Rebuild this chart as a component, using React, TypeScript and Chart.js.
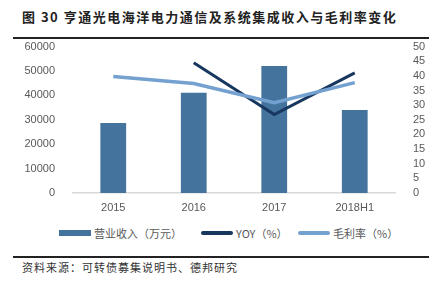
import React, { useEffect, useRef } from "react";
import { Chart, registerables } from "chart.js";

Chart.register(...registerables);

const categories = ["2015", "2016", "2017", "2018H1"];
const revenue = [28700, 41100, 52000, 34000];
const yoy: (number | null)[] = [null, 44.5, 26.8, 41.0];
const grossMargin = [39.8, 37.4, 30.8, 37.7];
const leftTicks = [0, 10000, 20000, 30000, 40000, 50000, 60000];
const rightTicks = [0, 5, 10, 15, 20, 25, 30, 35, 40, 45, 50];

const BAR = "#44739D";
const YOY_C = "#17375E";
const GM_C = "#74A1D0";
const CJK = '"Noto Sans CJK SC", "Liberation Sans", sans-serif';

export default function App() {
  const ref = useRef<HTMLCanvasElement | null>(null);
  useEffect(() => {
    document.body.style.margin = "0";
    const ctx = ref.current!;
    const tickFont = { family: "Liberation Sans", size: 11 };
    const chart = new Chart(ctx, {
      type: "bar",
      data: {
        labels: categories,
        datasets: [
          {
            type: "bar",
            label: "营业收入（万元）",
            data: revenue,
            backgroundColor: BAR,
            yAxisID: "y",
            categoryPercentage: 1,
            barPercentage: 0.32,
            order: 3,
          },
          {
            type: "line",
            label: "YOY（%）",
            data: yoy,
            borderColor: YOY_C,
            backgroundColor: YOY_C,
            borderWidth: 3,
            pointRadius: 0,
            yAxisID: "y1",
            order: 2,
          },
          {
            type: "line",
            label: "毛利率（%）",
            data: grossMargin,
            borderColor: GM_C,
            backgroundColor: GM_C,
            borderWidth: 3.5,
            pointRadius: 0,
            yAxisID: "y1",
            order: 1,
          },
        ] as any,
      },
      options: {
        animation: false,
        responsive: false,
        maintainAspectRatio: false,
        layout: { padding: { top: 0, left: 0, right: 0, bottom: 0 } },
        plugins: { legend: { display: false }, tooltip: { enabled: false } },
        scales: {
          x: {
            grid: { display: false },
            border: { color: "#d9d9d9", width: 1.5 },
            ticks: {
              color: "#595959",
              font: tickFont,
              padding: 0,
            },
            afterFit: (s: any) => {
              s.height = 27;
            },
          },
          y: {
            position: "left",
            min: 0,
            max: 60000,
            grid: { display: false },
            border: { display: false },
            afterBuildTicks: (s: any) => {
              s.ticks = leftTicks.map((v) => ({ value: v }));
            },
            ticks: {
              color: "#595959",
              font: tickFont,
              padding: 10,
              autoSkip: false,
              callback: (v: any) => String(v),
            },
            afterFit: (s: any) => {
              s.width = 73;
            },
          },
          y1: {
            position: "right",
            min: 0,
            max: 50,
            grid: { display: false },
            border: { display: false },
            afterBuildTicks: (s: any) => {
              s.ticks = rightTicks.map((v) => ({ value: v }));
            },
            ticks: {
              color: "#595959",
              font: tickFont,
              padding: 10,
              autoSkip: false,
              callback: (v: any) => String(v),
            },
            afterFit: (s: any) => {
              s.width = 46;
            },
          },
        },
      },
    });
    return () => chart.destroy();
  }, []);

  const legendItem = (color: string, label: string, h: number, left: number) => (
    <div
      style={{
        position: "absolute",
        left,
        top: 226,
        display: "flex",
        alignItems: "center",
        height: 14,
        fontFamily: CJK,
        fontSize: 11,
        color: "#595959",
        whiteSpace: "nowrap",
      }}
    >
      <div
        style={{
          width: 32,
          height: h,
          background: color,
          borderRadius: h === 6 ? 0 : 2,
          marginRight: 3,
        }}
      />
      <span>{label}</span>
    </div>
  );

  return (
    <div
      style={{
        position: "absolute",
        left: 0,
        top: 0,
        width: 441,
        height: 297,
        background: "#fff",
        overflow: "hidden",
      }}
    >
      <div
        style={{
          position: "absolute",
          left: 22,
          top: 8,
          fontFamily: CJK,
          fontWeight: 700,
          fontSize: 13,
          letterSpacing: 1.5,
          color: "#222",
          whiteSpace: "nowrap",
          lineHeight: "18px",
        }}
      >
        图 30 亨通光电海洋电力通信及系统集成收入与毛利率变化
      </div>
      <div
        style={{
          position: "absolute",
          left: 13,
          top: 37,
          width: 416,
          height: 2,
          background: "#222",
        }}
      />
      <canvas
        ref={ref}
        width={441}
        height={190}
        style={{ position: "absolute", left: 0, top: 30, width: 441, height: 190 }}
      />
      {legendItem(BAR, "营业收入（万元）", 6, 59)}
      {legendItem(YOY_C, "YOY（%）", 4, 201)}
      {legendItem(GM_C, "毛利率（%）", 4, 298)}
      <div
        style={{
          position: "absolute",
          left: 13,
          top: 256,
          width: 416,
          height: 2,
          background: "#222",
        }}
      />
      <div
        style={{
          position: "absolute",
          left: 22,
          top: 259,
          fontFamily: CJK,
          fontSize: 11,
          color: "#333",
          whiteSpace: "nowrap",
          lineHeight: "16px",
          letterSpacing: 1,
        }}
      >
        资料来源：可转债募集说明书、德邦研究
      </div>
    </div>
  );
}
